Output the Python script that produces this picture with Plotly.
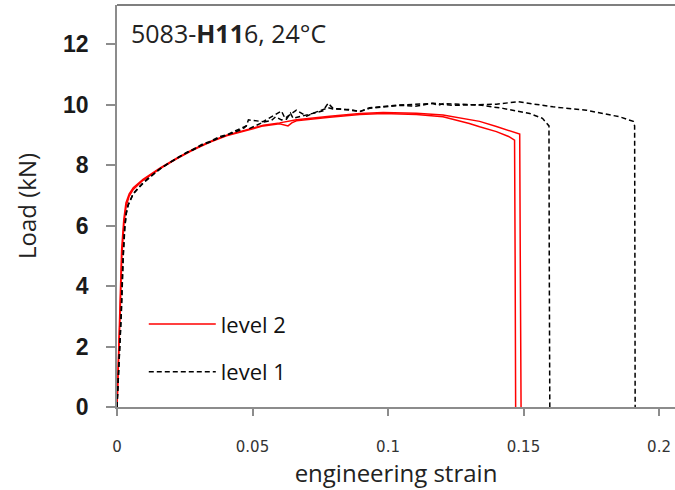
import plotly.graph_objects as go

# ---- data ----
# level 2 (red, solid) - two tests
strain_l2a = [0, 0.0006, 0.0012, 0.0018, 0.0026, 0.0034, 0.0045, 0.006, 0.0096, 0.0158, 0.022, 0.028,
              0.0342, 0.0404, 0.0453, 0.054, 0.06, 0.0618, 0.0631, 0.0645, 0.0662, 0.0785, 0.0896, 0.0982,
              0.1105, 0.1203, 0.1265, 0.130, 0.1338, 0.14, 0.1445, 0.1467, 0.1469, 0.1471]
load_l2a = [0, 1.4, 3.2, 5.0, 6.1, 6.65, 6.98, 7.2, 7.5, 7.88, 8.21, 8.5,
            8.76, 8.97, 9.09, 9.3, 9.37, 9.33, 9.30, 9.40, 9.47, 9.59, 9.68, 9.71,
            9.68, 9.6, 9.47, 9.38, 9.27, 9.11, 8.95, 8.83, 5.0, 0]

strain_l2b = [0, 0.0005, 0.0011, 0.0017, 0.0025, 0.0033, 0.0045, 0.006, 0.0096, 0.0158, 0.022, 0.028,
              0.0342, 0.0404, 0.0453, 0.054, 0.06, 0.0662, 0.0785, 0.0896, 0.0982, 0.1105, 0.1203,
              0.1265, 0.130, 0.1338, 0.14, 0.1455, 0.1486, 0.1488, 0.1491]
load_l2b = [0, 1.5, 3.4, 5.2, 6.2, 6.75, 7.05, 7.25, 7.53, 7.9, 8.23, 8.52,
            8.78, 8.99, 9.11, 9.32, 9.4, 9.5, 9.62, 9.71, 9.74, 9.72, 9.66,
            9.57, 9.52, 9.45, 9.28, 9.12, 9.03, 5.0, 0]

# level 1 (black, dashed) - two tests
strain_l1a = [0, 0.0007, 0.0015, 0.0022, 0.0028, 0.0034, 0.0041, 0.006, 0.0096, 0.013, 0.0158, 0.019,
              0.022, 0.025, 0.028, 0.031, 0.0342, 0.037, 0.0404, 0.043, 0.0465, 0.0477, 0.049, 0.0539,
              0.057, 0.0585, 0.0607, 0.0625, 0.064, 0.065, 0.0662, 0.0723, 0.076, 0.0779, 0.0797,
              0.0835, 0.0859, 0.0896, 0.0932, 0.1043, 0.1166, 0.1185, 0.1205, 0.1265, 0.1338, 0.1424,
              0.1523, 0.157, 0.1594, 0.1595, 0.1597]
load_l1a = [0, 1.3, 3.0, 4.9, 5.9, 6.4, 6.68, 7.05, 7.4, 7.66, 7.87, 8.06,
            8.22, 8.38, 8.5, 8.65, 8.76, 8.88, 8.99, 9.08, 9.2, 9.3, 9.22, 9.42,
            9.48, 9.6, 9.5, 9.52, 9.72, 9.55, 9.58, 9.72, 9.8, 10.05, 9.88,
            9.85, 9.82, 9.78, 9.9, 9.99, 10.04, 9.98, 10.04, 10.02, 9.99, 9.88,
            9.71, 9.55, 9.3, 5.0, 0]

strain_l1b = [0, 0.0007, 0.0016, 0.0023, 0.0029, 0.0035, 0.0042, 0.006, 0.0096, 0.012, 0.0158, 0.02,
              0.022, 0.026, 0.028, 0.032, 0.0342, 0.038, 0.0404, 0.044, 0.0477, 0.0485, 0.0539, 0.056,
              0.0607, 0.062, 0.0662, 0.07, 0.0723, 0.0779, 0.0797, 0.0859, 0.0896, 0.0932, 0.1043,
              0.11, 0.1166, 0.124, 0.1338, 0.14, 0.148, 0.1609, 0.1732, 0.1855, 0.1905, 0.191,
              0.1911, 0.1912]
load_l1b = [0, 1.3, 3.1, 4.95, 5.95, 6.45, 6.7, 7.06, 7.42, 7.6, 7.88, 8.12,
            8.23, 8.44, 8.52, 8.72, 8.78, 8.95, 9.0, 9.14, 9.3, 9.5, 9.44, 9.55,
            9.79, 9.55, 9.82, 9.62, 9.72, 9.9, 9.86, 9.84, 9.77, 9.88, 9.98,
            9.95, 10.05, 9.98, 10.0, 10.02, 10.1, 9.93, 9.82, 9.6, 9.45, 9.3,
            5.0, 0]

x_ticks = [0, 0.05, 0.1, 0.15, 0.2]
x_tick_text = ["0", "0.05", "0.1", "0.15", "0.2"]
y_ticks = [0, 2, 4, 6, 8, 10, 12]

RED = "#ff0000"
BLACK = "#000000"
AXIS = "#8c8c8c"

fig = go.Figure()
fig.add_trace(go.Scatter(x=strain_l2a, y=load_l2a, mode="lines", name="level 2",
                         legendgroup="l2", showlegend=True,
                         line=dict(color=RED, width=1.5)))
fig.add_trace(go.Scatter(x=strain_l2b, y=load_l2b, mode="lines", name="level 2",
                         legendgroup="l2", showlegend=False,
                         line=dict(color=RED, width=1.5)))
fig.add_trace(go.Scatter(x=strain_l1a, y=load_l1a, mode="lines", name="level 1",
                         legendgroup="l1", showlegend=True,
                         line=dict(color=BLACK, width=1.5, dash="5px,3px")))
fig.add_trace(go.Scatter(x=strain_l1b, y=load_l1b, mode="lines", name="level 1",
                         legendgroup="l1", showlegend=False,
                         line=dict(color=BLACK, width=1.5, dash="5px,3px")))

fig.update_layout(
    width=675, height=490,
    margin=dict(l=117, r=0, t=5, b=83),
    paper_bgcolor="white", plot_bgcolor="white",
    font=dict(family="Open Sans", color="#222222"),
    showlegend=True,
    legend=dict(x=0.048, y=0.146, xanchor="left", yanchor="middle",
                bgcolor="rgba(0,0,0,0)", itemwidth=67,
                traceorder="grouped", tracegroupgap=16,
                font=dict(family="Open Sans", size=22, color="#111111")),
    xaxis=dict(range=[0, 0.2059], tickvals=x_ticks, ticktext=x_tick_text,
               ticks="outside", ticklen=7, tickcolor=AXIS, tickwidth=1.5,
               showline=True, linecolor=AXIS, linewidth=1.5,
               showgrid=False, zeroline=False, ticklabelstandoff=18,
               tickfont=dict(family="DejaVu Sans", size=15, color="#333333"),
               title=dict(text="engineering strain", standoff=9,
                          font=dict(family="Open Sans", size=24, color="#222222"))),
    yaxis=dict(range=[0, 13.3], tickvals=y_ticks,
               ticks="outside", ticklen=9, tickcolor=AXIS, tickwidth=1.5,
               showline=True, linecolor=AXIS, linewidth=1.5,
               showgrid=False, zeroline=False, ticklabelstandoff=13,
               tickfont=dict(family="Liberation Sans", size=23, color="#1a1a1a", weight="bold"),
               title=dict(text="Load (kN)", standoff=20,
                          font=dict(family="Open Sans", size=24, color="#222222"))),
    shapes=[dict(type="line", xref="paper", yref="paper", x0=0, x1=1, y0=1, y1=1,
                 line=dict(color="#555555", width=1.5))],
    annotations=[dict(text="5083-<b>H11</b>6, 24°C", xref="paper", yref="paper",
                      x=0.022, y=0.93, xanchor="left", yanchor="middle", showarrow=False,
                      font=dict(family="Open Sans", size=25, color="#222222"))],
)

fig.write_html("out.html")
